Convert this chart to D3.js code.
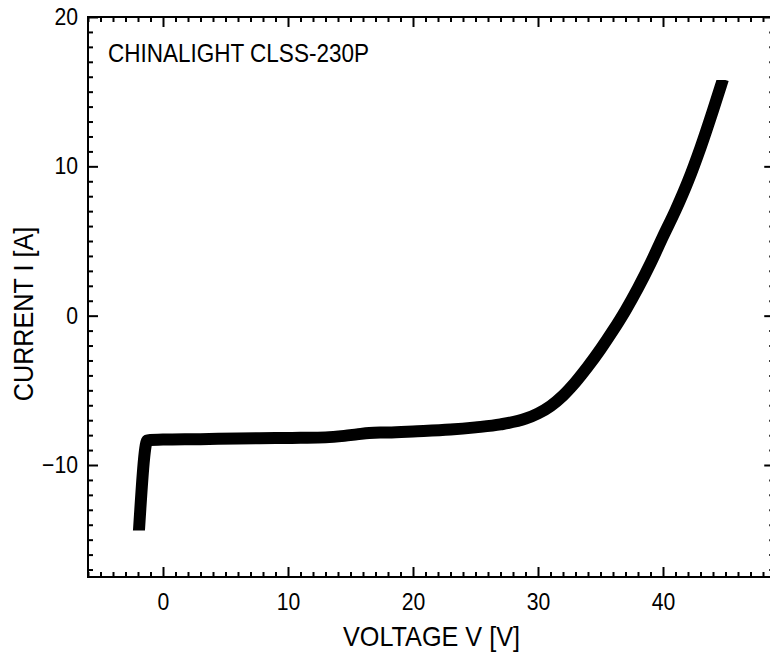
<!DOCTYPE html>
<html>
<head>
<meta charset="utf-8">
<script src="https://cdn.jsdelivr.net/npm/d3@7"></script>
<style>
  html, body { margin: 0; padding: 0; background: #fff; }
  svg { display: block; }
  text { font-family: "Liberation Sans", Arial, sans-serif; fill: #000; }
</style>
</head>
<body>
<svg id="chart" width="770" height="657"></svg>
<script>
// ---- data ----
const voltage = [-1.92, -1.25, 0, 3, 6, 9, 11, 13, 14.5, 15.5, 16.5, 18, 20, 23, 25, 27, 29, 30, 31, 32, 33, 34, 35, 36, 37, 38, 39, 40, 41, 42, 43, 44, 44.65];
const current = [-14.35, -8.35, -8.30, -8.27, -8.22, -8.20, -8.18, -8.15, -8.05, -7.95, -7.85, -7.82, -7.75, -7.63, -7.48, -7.28, -6.9, -6.55, -6.05, -5.35, -4.45, -3.4, -2.25, -1.0, 0.35, 1.85, 3.5, 5.3, 7.05, 9.0, 11.25, 13.75, 15.45];
const xTicks = [0, 10, 20, 30, 40];
const yTicks = [-10, 0, 10, 20];
const xDomain = [-6, 48.9];
const yDomain = [-17.5, 20];
const label = "CHINALIGHT CLSS-230P";
const xTitle = "VOLTAGE V [V]";
const yTitle = "CURRENT I [A]";

(function () {
  // ---- layout ----
  const mLeft = 88, mRight = 774.25, mTop = 17, mBottom = 577;
  const squeeze = 0.9;
  const svg = d3.select("#chart");
  const x = d3.scaleLinear().domain(xDomain).range([mLeft, mRight]);
  const y = d3.scaleLinear().domain(yDomain).range([mBottom, mTop]);

  const xMinor = d3.range(-6, 49, 1).filter(v => v % 10 !== 0);
  const yMinor = d3.range(-17, 21, 1).filter(v => v % 10 !== 0);

  function condense(sel) {
    sel.each(function () {
      const len = this.getComputedTextLength();
      if (len > 0) {
        d3.select(this).attr("textLength", len * squeeze).attr("lengthAdjust", "spacingAndGlyphs");
      }
    });
  }

  function styleAxis(g) {
    g.select(".domain").remove();
    g.selectAll(".tick line").attr("stroke", "#000").attr("stroke-width", 2);
    g.selectAll(".tick text").style("font-size", "23.5px").attr("fill", "#000")
      .style("font-family", "'Liberation Sans', Arial, sans-serif")
      .call(condense);
  }

  // bottom
  svg.append("g").attr("transform", `translate(0,${mBottom})`)
    .call(d3.axisBottom(x).tickValues(xMinor).tickSize(-5).tickFormat(""))
    .call(styleAxis);
  svg.append("g").attr("transform", `translate(0,${mBottom})`)
    .call(d3.axisBottom(x).tickValues(xTicks).tickSize(-10).tickPadding(16).tickFormat(d3.format("d")))
    .call(styleAxis);
  // top
  svg.append("g").attr("transform", `translate(0,${mTop})`)
    .call(d3.axisTop(x).tickValues(xMinor).tickSize(-5).tickFormat(""))
    .call(styleAxis);
  svg.append("g").attr("transform", `translate(0,${mTop})`)
    .call(d3.axisTop(x).tickValues(xTicks).tickSize(-10).tickFormat(""))
    .call(styleAxis);
  // left
  svg.append("g").attr("transform", `translate(${mLeft},0)`)
    .call(d3.axisLeft(y).tickValues(yMinor).tickSize(-5).tickFormat(""))
    .call(styleAxis);
  svg.append("g").attr("transform", `translate(${mLeft},0)`)
    .call(d3.axisLeft(y).tickValues(yTicks).tickSize(-10).tickPadding(10).tickFormat(d3.format("d")))
    .call(styleAxis);
  // right
  svg.append("g").attr("transform", `translate(${mRight},0)`)
    .call(d3.axisRight(y).tickValues(yMinor).tickSize(-5).tickFormat(""))
    .call(styleAxis);
  svg.append("g").attr("transform", `translate(${mRight},0)`)
    .call(d3.axisRight(y).tickValues(yTicks).tickSize(-10).tickFormat(""))
    .call(styleAxis);

  // frame
  svg.append("rect")
    .attr("x", mLeft).attr("y", mTop)
    .attr("width", mRight - mLeft).attr("height", mBottom - mTop)
    .attr("fill", "none").attr("stroke", "#000").attr("stroke-width", 2);

  // clip so that the thick trace ends are cut flat (horizontal)
  const yEndTop = y(d3.max(current)) - 5;
  const yEndBot = y(d3.min(current)) + 0.5;
  svg.append("defs").append("clipPath").attr("id", "traceClip")
    .append("rect").attr("x", mLeft).attr("y", yEndTop)
    .attr("width", mRight - mLeft).attr("height", yEndBot - yEndTop);

  // curve
  const pts = voltage.map((v, i) => [v, current[i]]);
  svg.append("path")
    .datum(pts)
    .attr("clip-path", "url(#traceClip)")
    .attr("fill", "none")
    .attr("stroke", "#000")
    .attr("stroke-width", 12)
    .attr("stroke-linejoin", "round")
    .attr("stroke-linecap", "square")
    .attr("d", d3.line().x(d => x(d[0])).y(d => y(d[1])).curve(d3.curveMonotoneX));

  // texts
  svg.append("text").attr("x", 108).attr("y", 62)
    .style("font-size", "25px").text(label).call(condense);
  svg.append("text").attr("x", 431.5).attr("y", 646)
    .attr("text-anchor", "middle").style("font-size", "28px").text(xTitle).call(condense);
  svg.append("text").attr("transform", "translate(33,314) rotate(-90)")
    .attr("text-anchor", "middle").style("font-size", "28px").text(yTitle).call(condense);
})();
</script>
</body>
</html>
